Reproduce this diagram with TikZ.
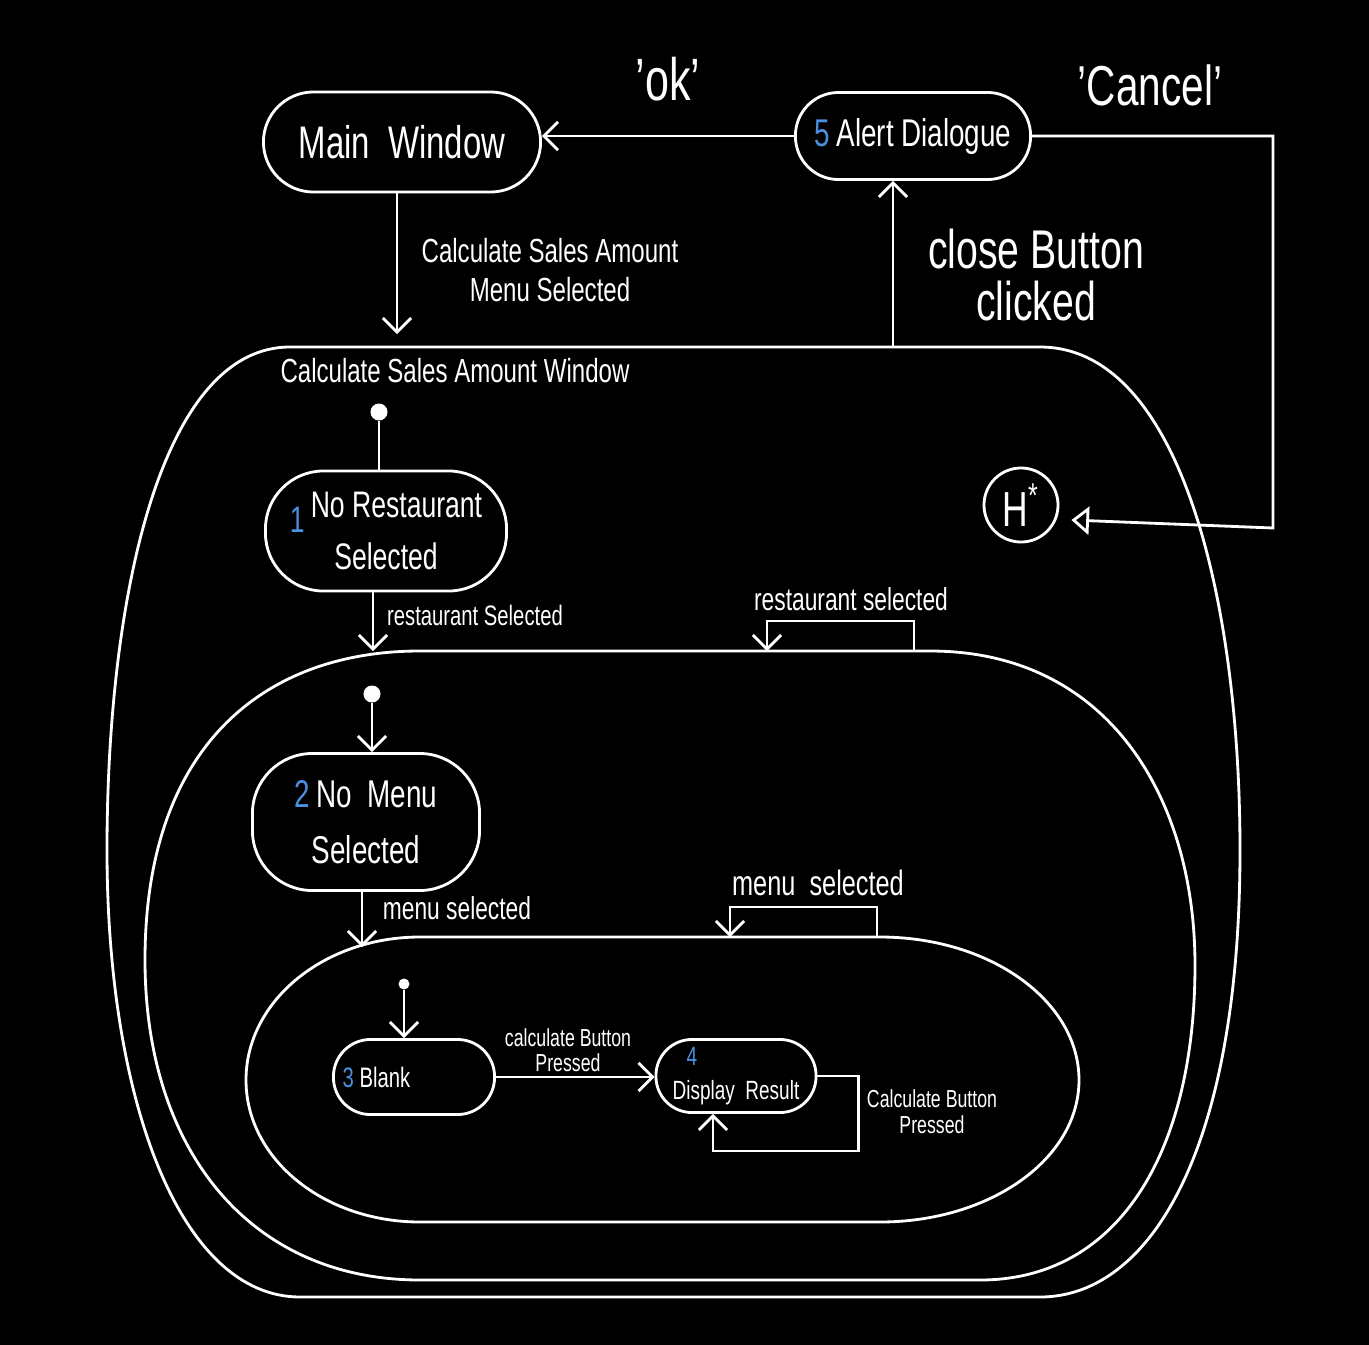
\documentclass[tikz,border=0pt]{standalone}
\usepackage{fontspec}
\setmainfont{Liberation Sans}[FakeStretch=0.72]
\usepackage{xcolor}
\usetikzlibrary{arrows.meta}
\definecolor{numblue}{RGB}{74,144,226}

\begin{document}
\begin{tikzpicture}[x=0.01cm, y=-0.01cm, white, >={Straight Barb[length=4pt,width=8pt]},
			stbox/.style={draw, thick, rounded corners=#1, align=center, inner sep=2pt},
			initdot/.style={fill, circle, inner sep=0pt, minimum size=#1},
			lbl/.style 2 args={align=center, font=\fontsize{#1}{#2}\selectfont}
			]
			\fill[black] (0,0) rectangle (1369,1345);
			\useasboundingbox (0,0) rectangle (1369,1345);
			
			% composite states
			\draw[thick] (290,347) -- (1040,347) .. controls (1180,347) and (1240,600) .. (1240,850)
			.. controls (1240,1150) and (1150,1297) .. (1040,1297) -- (300,1297)
			.. controls (180,1297) and (107,1100) .. (107,850) .. controls (107,600) and (160,347) .. (290,347);
			\draw[thick] (420,651) -- (930,651) .. controls (1110,651) and (1195,800) .. (1195,965)
			.. controls (1195,1150) and (1120,1280) .. (980,1280) -- (420,1280)
			.. controls (250,1280) and (145,1150) .. (145,960) .. controls (145,745) and (265,651) .. (420,651);
			\draw[thick] (420,937) -- (880,937) .. controls (990,937) and (1079,1001) .. (1079,1080)
			.. controls (1079,1159) and (990,1222) .. (880,1222) -- (420,1222)
			.. controls (324,1222) and (246,1159) .. (246,1080) .. controls (246,1001) and (324,937) .. (420,937);
			
			\coordinate (wintop) at (397,334);
			\coordinate (cbtn) at (893,347);
			\coordinate (cnr) at (1273,528);
			\coordinate (midtop) at (373,651);
			\coordinate (rsa) at (914,651);
			\coordinate (rsb) at (767,651);
			\coordinate (intop) at (362,947);
			\coordinate (msa) at (877,937);
			\coordinate (msb) at (730,937);
			
			\node [stbox=0.5cm, minimum width=2.77cm, minimum height=1cm, font=\fontsize{13}{15}\selectfont](mw) at (402,142) {Main\ \ Window};
			\node [stbox=0.43cm, minimum width=2.35cm, minimum height=0.87cm, font=\fontsize{11}{13}\selectfont](ad) at (913,136) {\textcolor{numblue}{5}\,Alert Dialogue};
			
			\node [stbox=0.58cm, minimum width=2.41cm, minimum height=1.2cm, font=\fontsize{10.5}{15}\selectfont](s1) at (386,531) {\raisebox{-0.8ex}{\textcolor{numblue}{1}}\,No Restaurant\\Selected};
			\node [stbox=0.6cm, minimum width=2.27cm, minimum height=1.37cm, font=\fontsize{11}{16}\selectfont](s2) at (366,822) {\textcolor{numblue}{2}\,No\ \ Menu\\Selected};
			\node [stbox=0.37cm, minimum width=1.61cm, minimum height=0.75cm, font=\fontsize{8}{9}\selectfont](s3) at (414,1077) {\textcolor{numblue}{3} Blank\hspace{0.75cm}};
			\node [stbox=0.36cm, minimum width=1.6cm, minimum height=0.73cm, font=\fontsize{7.5}{9.5}\selectfont, align=left](s4) at (736,1076) {\hspace{0.14cm}\textcolor{numblue}{4}\\Display\ \ Result};
			
			\node [draw, thick, circle, minimum size=0.74cm, inner sep=0pt, font=\fontsize{14}{14}\selectfont](h) at (1021,505) {H\textsuperscript{*}};
			
			\node [initdot=0.17cm](i1) at (379,412) {};
			\node [initdot=0.17cm](i2) at (372,694) {};
			\node [initdot=0.11cm](i3) at (404,984) {};
			
			\draw[thick, ->] (ad.west) -- (ad.west -| mw.east) node[midway, above=0.22cm, lbl={17}{17}] {'ok'};
			\draw[thick, -{Triangle[open,length=5pt,width=8pt]}] (ad.east) -| (cnr) -- ([shift={(12,15)}]h.east);
			\node [lbl={16}{16}](cancel) at (1150,85) {'Cancel'};
			
			\draw[thick, ->] (mw.south -| wintop) -- (wintop);
			\node [lbl={9.5}{11}](l1) at (550,270) {Calculate Sales Amount\\Menu Selected};
			
			\draw[thick, ->] (cbtn) -- (cbtn |- ad.south);
			\node [lbl={15.5}{15}](l2) at (1036,275) {close Button\\clicked};
			
			\node [lbl={9.5}{11}](outer) at (455,371) {Calculate Sales Amount Window};
			
			\draw[thick] (i1) -- (i1 |- s1.north);
			\draw[thick, ->] (s1.south -| midtop) -- (midtop);
			\node [lbl={8}{9}](l3) at (475,615) {restaurant Selected};
			\draw[thick, ->] (rsa) -- ++(0,-30) -| (rsb);
			\node [lbl={9}{10}](l4) at (851,599) {restaurant selected};
			
			\draw[thick, ->] (i2) -- (i2 |- s2.north);
			\draw[thick, ->] (s2.south -| intop) -- (intop);
			\node [lbl={9}{10}](l5) at (457,908) {menu selected};
			\draw[thick, ->] (msa) -- ++(0,-30) -| (msb);
			\node [lbl={10}{11}](l6) at (818,883) {menu\ \ selected};
			
			\draw[thick, ->] (i3) -- (i3 |- s3.north);
			\draw[thick, ->] (s3.east) -- (s3.east -| s4.west);
			\node [lbl={7}{7}](l7) at (568,1050) {calculate Button\\Pressed};
			\draw[thick, ->] (s4.east) -- ++(41,0) -- ++(0,75) -| ([xshift=-0.23cm]s4.south);
			\node [lbl={7}{7.5}](l8) at (932,1112) {Calculate Button\\Pressed};
			
		\end{tikzpicture}
\end{document}
